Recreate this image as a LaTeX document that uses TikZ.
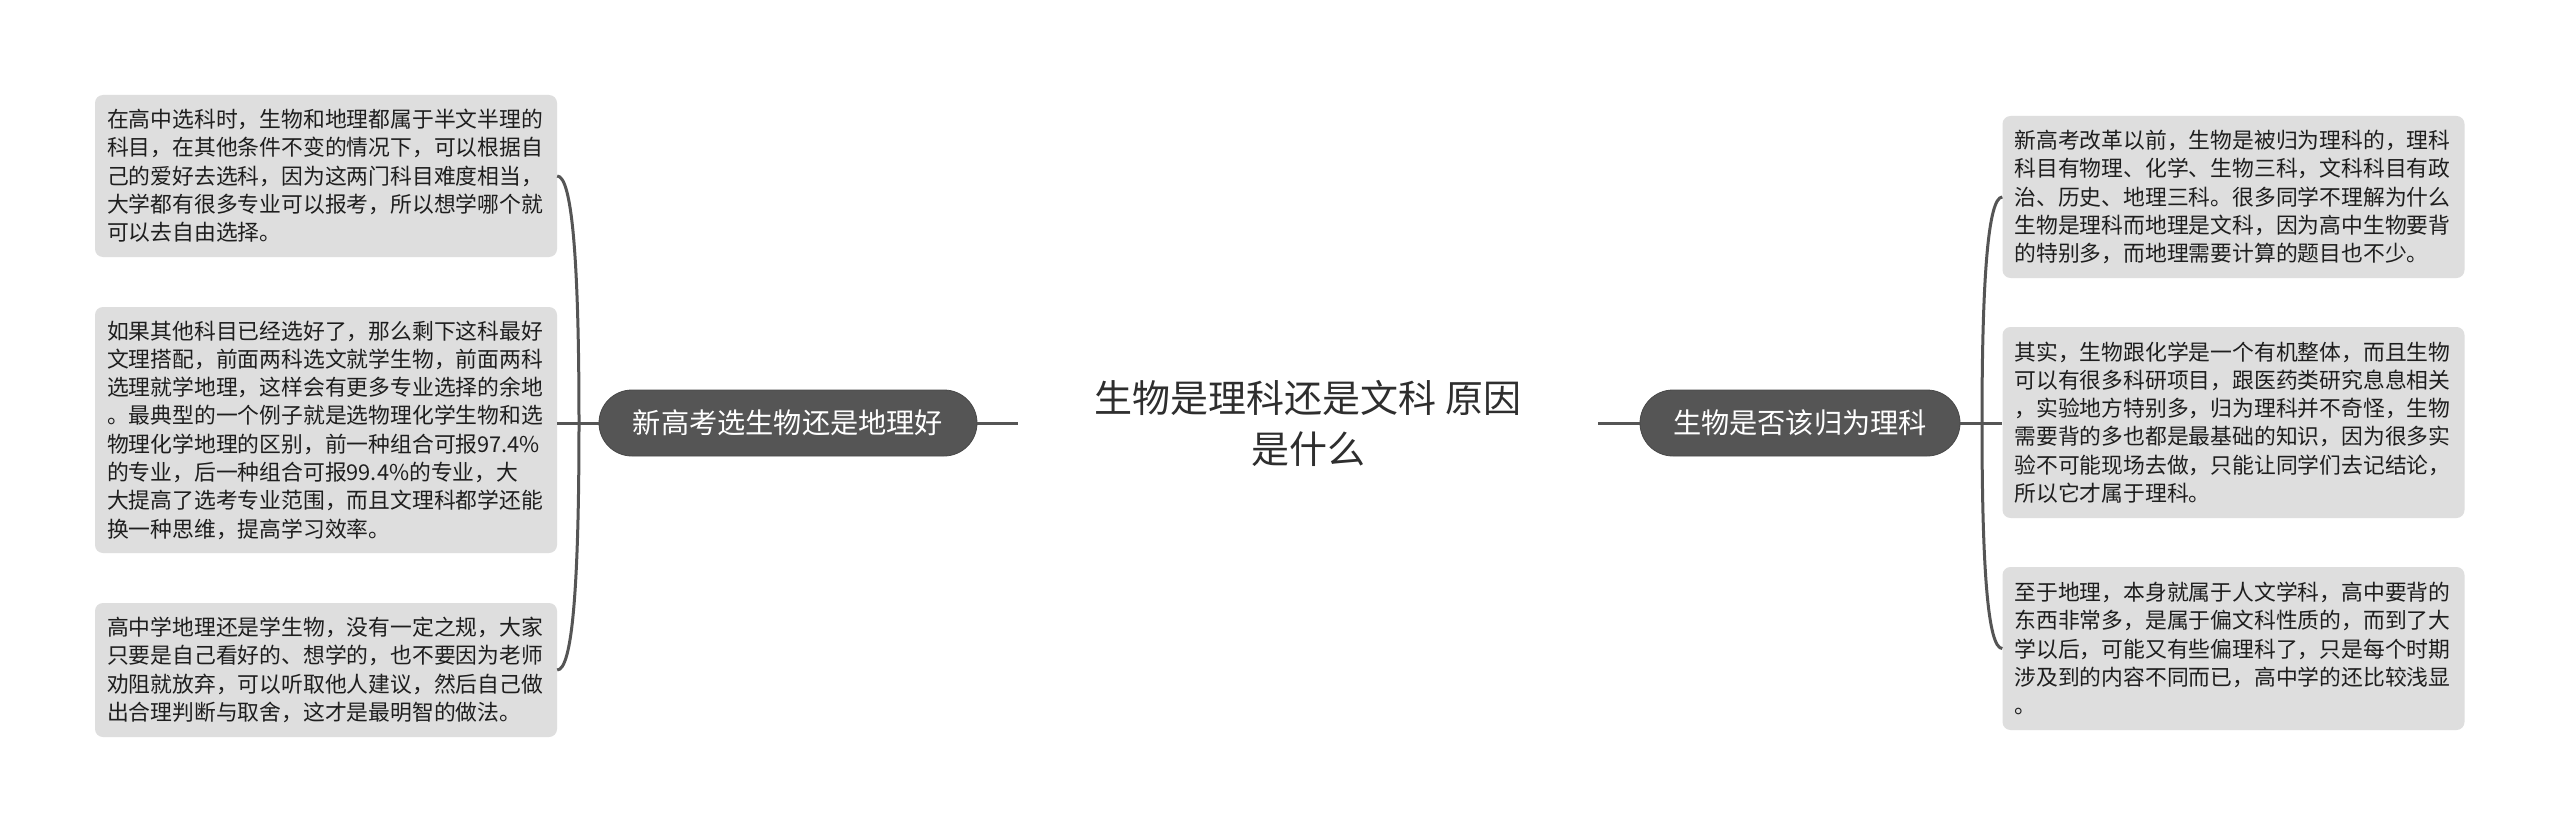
\documentclass[tikz,border=0pt]{standalone}
\usepackage{fontspec}
\setmainfont{Noto Sans CJK SC}
\definecolor{boxgray}{HTML}{DEDEDE}
\definecolor{darknode}{HTML}{555555}
\definecolor{linegray}{HTML}{555555}
\definecolor{bodytext}{HTML}{1E1E1E}
\definecolor{roottext}{HTML}{2E2E2E}
\tikzset{
  leafbox/.style={fill=boxgray, rounded corners=8pt, text=bodytext,
    text width=438pt, inner xsep=12pt, inner ysep=0pt, align=left,
    font=\fontsize{21.8}{28.3}\selectfont},
  pillbox/.style={fill=darknode, draw=darknode!85!black, line width=0.8pt, rounded corners=33pt, text=white,
    minimum height=66pt, inner sep=0pt, font=\fontsize{28.2}{34}\selectfont},
  rootbox/.style={minimum width=580pt, minimum height=110pt, inner sep=0pt, align=center,
    text=roottext, font=\fontsize{38}{51}\selectfont},
  conn/.style={draw=linegray, line width=3pt},
}
\begin{document}
\begin{tikzpicture}[x=1pt,y=-1pt]
\useasboundingbox (0,0) rectangle (2560,832);
\fill[white] (0,0) rectangle (2560,832);

% root
\node[rootbox] (root) at (1308,423) {生物是理科还是文科 原因\\是什么};

% branch nodes
\node[pillbox, minimum width=378pt] (bl) at (788,423) {新高考选生物还是地理好};
\node[pillbox, minimum width=320pt] (br) at (1800,423) {生物是否该归为理科};

% left leaves
\node[leafbox, minimum height=162pt] (l1) at (326,176) {在高中选科时，生物和地理都属于半文半理的\\科目，在其他条件不变的情况下，可以根据自\\己的爱好去选科，因为这两门科目难度相当，\\大学都有很多专业可以报考，所以想学哪个就\\可以去自由选择。};
\node[leafbox, minimum height=246pt] (l2) at (326,430) {如果其他科目已经选好了，那么剩下这科最好\\文理搭配，前面两科选文就学生物，前面两科\\选理就学地理，这样会有更多专业选择的余地\\。最典型的一个例子就是选物理化学生物和选\\物理化学地理的区别，前一种组合可报97.4\%\\的专业，后一种组合可报99.4\%的专业，大\\大提高了选考专业范围，而且文理科都学还能\\换一种思维，提高学习效率。};
\node[leafbox, minimum height=134pt] (l3) at (326,670) {高中学地理还是学生物，没有一定之规，大家\\只要是自己看好的、想学的，也不要因为老师\\劝阻就放弃，可以听取他人建议，然后自己做\\出合理判断与取舍，这才是最明智的做法。};

% right leaves
\node[leafbox, minimum height=162pt] (r1) at (2233.5,197) {新高考改革以前，生物是被归为理科的，理科\\科目有物理、化学、生物三科，文科科目有政\\治、历史、地理三科。很多同学不理解为什么\\生物是理科而地理是文科，因为高中生物要背\\的特别多，而地理需要计算的题目也不少。};
\node[leafbox, minimum height=191pt] (r2) at (2233.5,422.5) {其实，生物跟化学是一个有机整体，而且生物\\可以有很多科研项目，跟医药类研究息息相关\\，实验地方特别多，归为理科并不奇怪，生物\\需要背的多也都是最基础的知识，因为很多实\\验不可能现场去做，只能让同学们去记结论，\\所以它才属于理科。};
\node[leafbox, minimum height=163pt] (r3) at (2233.5,648.5) {至于地理，本身就属于人文学科，高中要背的\\东西非常多，是属于偏文科性质的，而到了大\\学以后，可能又有些偏理科了，只是每个时期\\涉及到的内容不同而已，高中学的还比较浅显\\。};

% junctions
\coordinate (jl) at (579,423);
\coordinate (jr) at (1982,423);

% root to branches
\draw[conn] (root.west) -- (bl.east);
\draw[conn] (root.east) -- (br.west);

% left bracket
\draw[conn] (bl.west) -- (jl);
\draw[conn] (jl) -- (l2.east |- jl);
\draw[conn] (jl) .. controls (579,260) and (572,176) .. (l1.east);
\draw[conn] (jl) .. controls (579,590) and (572,670) .. (l3.east);

% right bracket
\draw[conn] (br.east) -- (jr);
\draw[conn] (jr) -- (r2.west |- jr);
\draw[conn] (jr) .. controls (1982,280) and (1988,197) .. (r1.west);
\draw[conn] (jr) .. controls (1982,570) and (1988,648.5) .. (r3.west);
\end{tikzpicture}
\end{document}
